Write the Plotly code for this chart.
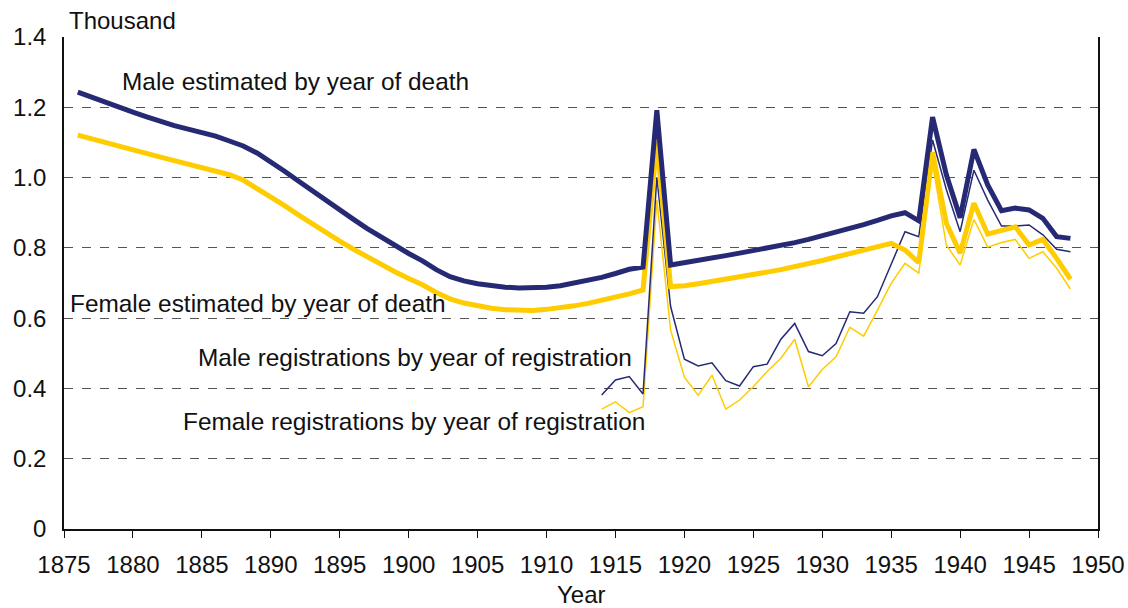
import plotly.graph_objects as go

years_est = list(range(1876, 1949))
male_est = [1.243, 1.228, 1.213, 1.199, 1.186, 1.173, 1.160, 1.148, 1.138, 1.128,
            1.118, 1.104, 1.090, 1.070, 1.045, 1.018, 0.990, 0.962, 0.935, 0.907,
            0.881, 0.855, 0.830, 0.806, 0.784, 0.763, 0.738, 0.718, 0.706, 0.698,
            0.692, 0.688, 0.686, 0.686, 0.688, 0.692, 0.699, 0.707, 0.716, 0.727,
            0.739, 0.745, 1.192, 0.751, 0.757, 0.764, 0.771, 0.778, 0.785, 0.792,
            0.799, 0.806, 0.815, 0.824, 0.834, 0.845, 0.855, 0.866, 0.878, 0.891,
            0.900, 0.877, 1.172, 1.008, 0.886, 1.080, 0.979, 0.906, 0.913, 0.908,
            0.884, 0.832, 0.827]
female_est = [1.121, 1.110, 1.099, 1.088, 1.078, 1.068, 1.058, 1.048, 1.038, 1.029,
              1.019, 1.008, 0.993, 0.970, 0.945, 0.920, 0.894, 0.868, 0.843, 0.819,
              0.796, 0.774, 0.753, 0.732, 0.713, 0.695, 0.673, 0.655, 0.643, 0.634,
              0.628, 0.624, 0.622, 0.622, 0.625, 0.629, 0.635, 0.642, 0.650, 0.659,
              0.669, 0.680, 1.102, 0.690, 0.692, 0.698, 0.704, 0.711, 0.717, 0.724,
              0.731, 0.738, 0.746, 0.755, 0.764, 0.774, 0.784, 0.794, 0.804, 0.813,
              0.794, 0.758, 1.072, 0.870, 0.785, 0.927, 0.839, 0.851, 0.860, 0.808,
              0.824, 0.770, 0.711]

years_reg = list(range(1914, 1949))
male_reg = [0.381, 0.424, 0.434, 0.384, 1.001, 0.633, 0.483, 0.464, 0.473, 0.422,
            0.407, 0.462, 0.469, 0.540, 0.585, 0.505, 0.493, 0.528, 0.618, 0.614,
            0.661, 0.756, 0.846, 0.832, 1.107, 0.966, 0.846, 1.021, 0.936, 0.862,
            0.862, 0.865, 0.837, 0.796, 0.789]
female_reg = [0.341, 0.362, 0.331, 0.348, 0.936, 0.566, 0.432, 0.381, 0.438, 0.341,
              0.367, 0.405, 0.448, 0.486, 0.540, 0.405, 0.454, 0.490, 0.574, 0.549,
              0.623, 0.699, 0.756, 0.728, 1.040, 0.808, 0.751, 0.881, 0.802, 0.815,
              0.824, 0.770, 0.789, 0.742, 0.683]

x_ticks = list(range(1875, 1951, 5))
y_ticks = [0, 0.2, 0.4, 0.6, 0.8, 1.0, 1.2, 1.4]
y_ticktext = ["0", "0.2", "0.4", "0.6", "0.8", "1.0", "1.2", "1.4"]

NAVY = "#262A74"
GOLD = "#FFCC00"
FONT = "Liberation Sans, Arial, sans-serif"

fig = go.Figure()
fig.add_trace(go.Scatter(x=years_reg, y=female_reg, mode="lines",
                         line=dict(color=GOLD, width=1.5), name="Female registrations"))
fig.add_trace(go.Scatter(x=years_reg, y=male_reg, mode="lines",
                         line=dict(color=NAVY, width=1.5), name="Male registrations"))
fig.add_trace(go.Scatter(x=years_est, y=female_est, mode="lines",
                         line=dict(color=GOLD, width=5), name="Female estimated"))
fig.add_trace(go.Scatter(x=years_est, y=male_est, mode="lines",
                         line=dict(color=NAVY, width=5), name="Male estimated"))

labels = [
    ("Male estimated by year of death", 1879.05, 1.272),
    ("Female estimated by year of death", 1875.3, 0.643),
    ("Male registrations by year of registration", 1884.6, 0.487),
    ("Female registrations by year of registration", 1883.5, 0.305),
]
for txt, lx, ly in labels:
    fig.add_annotation(x=lx, y=ly, xref="x", yref="y", text=txt, showarrow=False,
                       xanchor="left", yanchor="middle",
                       font=dict(family=FONT, size=24.4, color="#111111"))

fig.add_annotation(x=0.003, y=1.034, xref="paper", yref="paper", text="Thousand",
                   showarrow=False, xanchor="left", yanchor="middle",
                   font=dict(family=FONT, size=24, color="#111111"))
fig.add_annotation(x=0.5, y=-0.134, xref="paper", yref="paper", text="Year",
                   showarrow=False, xanchor="center", yanchor="middle",
                   font=dict(family=FONT, size=24, color="#111111"))

fig.update_layout(
    width=1128, height=608,
    margin=dict(l=64, r=30, t=37, b=79),
    paper_bgcolor="white", plot_bgcolor="white",
    showlegend=False,
    font=dict(family=FONT, size=24, color="#111111"),
    xaxis=dict(range=[1875, 1950], tickvals=x_ticks, ticks="outside", ticklen=7,
               tickcolor="#111111", showline=True, linecolor="#111111", linewidth=1.5,
               showgrid=False, zeroline=False, ticklabelstandoff=6, automargin=False,
               ticklabeloverflow="allow", tickfont=dict(size=24)),
    yaxis=dict(range=[0, 1.4], tickvals=y_ticks, ticktext=y_ticktext, ticks="",
               showline=True, linecolor="#111111", linewidth=1.5, mirror=True,
               showgrid=True, gridcolor="#555555", gridwidth=1, griddash="dash",
               zeroline=False, ticklabelstandoff=11, automargin=False,
               tickfont=dict(size=24)),
)

fig.write_html("out.html", config={"displayModeBar": False},
               post_script="document.body.style.margin='0';document.body.style.overflow='hidden';")
